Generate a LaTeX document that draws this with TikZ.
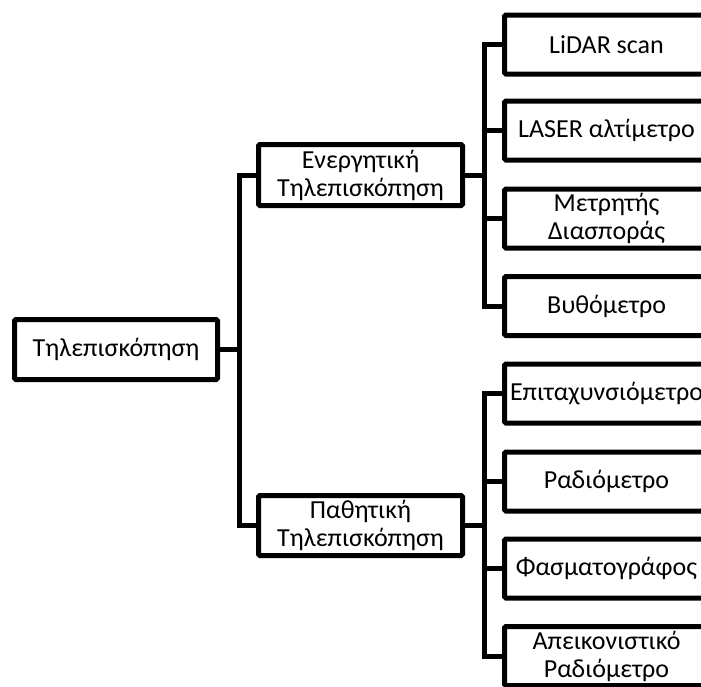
\documentclass[tikz,border=0pt]{standalone}
\usepackage{fontspec}
\setmainfont{Carlito}
\begin{document}
\begin{tikzpicture}[x=1pt,y=-1pt,
  box/.style={draw=black, line width=5pt, rounded corners=1.5pt, fill=white,
    rectangle, align=center, inner sep=0pt, minimum width=204pt,
    font=\fontsize{26}{28}\selectfont},
  link/.style={draw=black, line width=5pt}]
\useasboundingbox (0,0) rectangle (701,686);
\clip (0,0) rectangle (701,686);

% root
\node[box, minimum width=203pt, minimum height=60pt] (root) at (116,349.5) {Τηλεπισκόπηση};

% second level
\node[box, minimum height=61pt] (act) at (360.5,175) {Ενεργητική\\Τηλεπισκόπηση};
\node[box, minimum height=60pt] (pas) at (360.5,525.5) {Παθητική\\Τηλεπισκόπηση};

% leaves
\node[box, minimum height=59pt] (a1) at (606.5,44.5) {LiDAR scan};
\node[box, minimum height=59pt] (a2) at (606.5,130.5) {LASER αλτίμετρο};
\node[box, minimum height=59pt] (a3) at (606.5,218.5) {Μετρητής\\Διασποράς};
\node[box, minimum height=59pt] (a4) at (606.5,306) {Βυθόμετρο};
\node[box, minimum height=59pt] (p1) at (606.5,393.5) {Επιταχυνσιόμετρο};
\node[box, minimum height=59pt] (p2) at (606.5,481.5) {Ραδιόμετρο};
\node[box, minimum height=59pt] (p3) at (606.5,568.5) {Φασματογράφος};
\node[box, minimum height=59pt] (p4) at (606.5,656) {Απεικονιστικό\\Ραδιόμετρο};

% bus junctions
\coordinate (j0) at (239,349.5);
\coordinate (j1) at (484,175);
\coordinate (j2) at (484,525.5);

% connectors
\draw[link] (root.east) -- (j0);
\draw[link] (act.west) -| (j0) |- (pas.west);

\draw[link] (act.east) -- (j1);
\draw[link] (a1.west) -| (j1) |- (a4.west);
\draw[link] (a2.west) -- (a2.west -| j1);
\draw[link] (a3.west) -- (a3.west -| j1);

\draw[link] (pas.east) -- (j2);
\draw[link] (p1.west) -| (j2) |- (p4.west);
\draw[link] (p2.west) -- (p2.west -| j2);
\draw[link] (p3.west) -- (p3.west -| j2);
\end{tikzpicture}
\end{document}
